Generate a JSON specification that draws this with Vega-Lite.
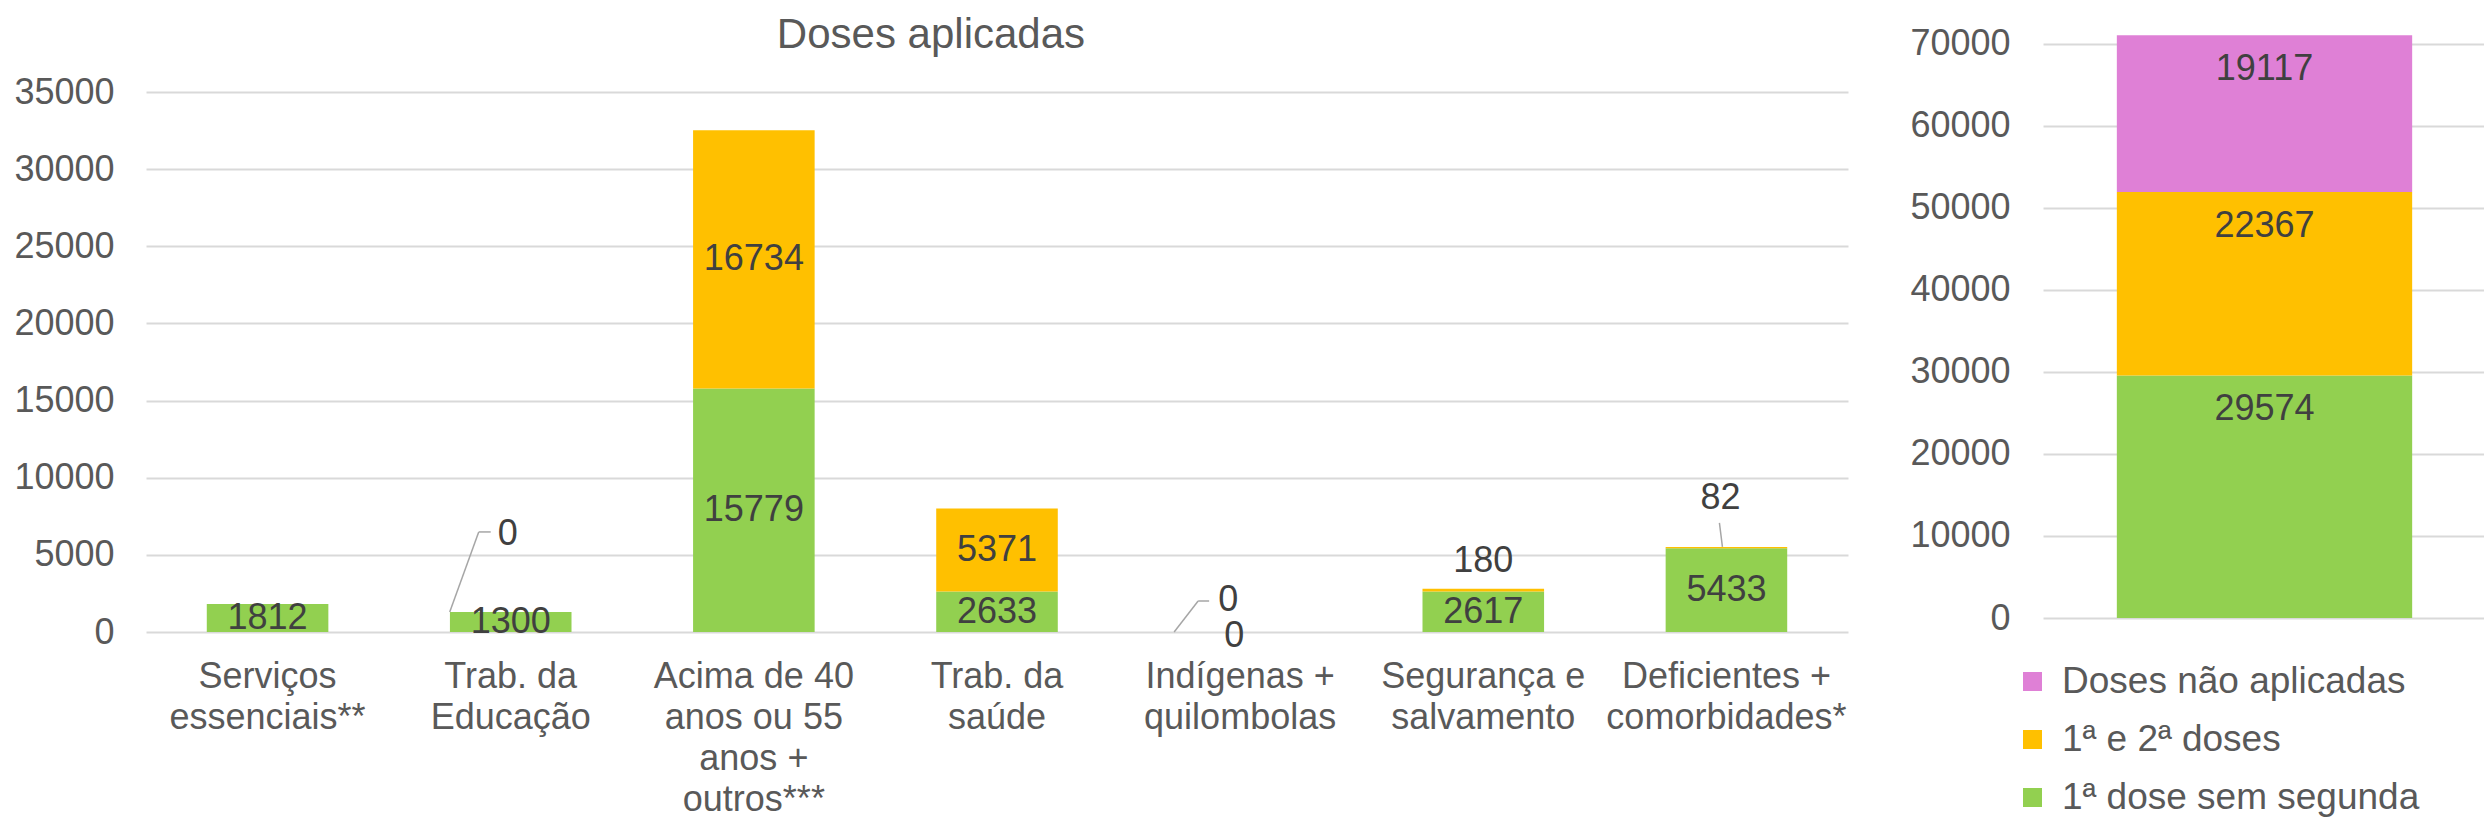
{
  "$schema": "https://vega.github.io/schema/vega-lite/v6.json",
  "background": "white",
  "padding": {"left": 13, "top": 14, "right": 0, "bottom": 0},
  "bounds": "flush",
  "spacing": 195,
  "config": {
    "view": {"stroke": null},
    "font": "Liberation Sans",
    "axis": {"labelFont": "Liberation Sans", "labelColor": "#595959", "gridColor": "#D9D9D9", "gridWidth": 2, "domain": false, "ticks": false, "titleFont": "Liberation Sans"},
    "legend": {"labelFont": "Liberation Sans"}
  },
  "datasets": {
    "grupos": [
      {"grupo": "Serviços essenciais**", "serie": "1ª dose sem segunda", "ord": 1, "valor": 1812},
      {"grupo": "Trab. da Educação", "serie": "1ª dose sem segunda", "ord": 1, "valor": 1300},
      {"grupo": "Trab. da Educação", "serie": "1ª e 2ª doses", "ord": 2, "valor": 0},
      {"grupo": "Acima de 40 anos ou 55 anos + outros***", "serie": "1ª dose sem segunda", "ord": 1, "valor": 15779},
      {"grupo": "Acima de 40 anos ou 55 anos + outros***", "serie": "1ª e 2ª doses", "ord": 2, "valor": 16734},
      {"grupo": "Trab. da saúde", "serie": "1ª dose sem segunda", "ord": 1, "valor": 2633},
      {"grupo": "Trab. da saúde", "serie": "1ª e 2ª doses", "ord": 2, "valor": 5371},
      {"grupo": "Indígenas + quilombolas", "serie": "1ª dose sem segunda", "ord": 1, "valor": 0},
      {"grupo": "Indígenas + quilombolas", "serie": "1ª e 2ª doses", "ord": 2, "valor": 0},
      {"grupo": "Segurança e salvamento", "serie": "1ª dose sem segunda", "ord": 1, "valor": 2617},
      {"grupo": "Segurança e salvamento", "serie": "1ª e 2ª doses", "ord": 2, "valor": 180},
      {"grupo": "Deficientes + comorbidades*", "serie": "1ª dose sem segunda", "ord": 1, "valor": 5433},
      {"grupo": "Deficientes + comorbidades*", "serie": "1ª e 2ª doses", "ord": 2, "valor": 82}
    ],
    "total": [
      {"grupo": "Total", "serie": "1ª dose sem segunda", "ord": 1, "valor": 29574},
      {"grupo": "Total", "serie": "1ª e 2ª doses", "ord": 2, "valor": 22367},
      {"grupo": "Total", "serie": "Doses não aplicadas", "ord": 3, "valor": 19117}
    ]
  },
  "resolve": {"legend": {"color": "independent"}},
  "hconcat": [
    {
      "width": 1702,
      "height": 601,
      "title": {"text": "Doses aplicadas", "fontSize": 42, "font": "Liberation Sans", "fontWeight": "normal", "color": "#595959", "offset": -26, "anchor": "middle", "frame": "bounds"},
      "data": {"name": "grupos"},
      "transform": [
        {"stack": "valor", "groupby": ["grupo"], "sort": [{"field": "ord", "order": "ascending"}], "as": ["v0", "v1"]},
        {"calculate": "(datum.v0 + datum.v1) / 2", "as": "mid"}
      ],
      "encoding": {
        "x": {
          "field": "grupo", "type": "nominal",
          "sort": ["Serviços essenciais**", "Trab. da Educação", "Acima de 40 anos ou 55 anos + outros***", "Trab. da saúde", "Indígenas + quilombolas", "Segurança e salvamento", "Deficientes + comorbidades*"],
          "scale": {"paddingInner": 0.5, "paddingOuter": 0.25},
          "axis": {
            "title": null, "labelAngle": 0, "labelFontSize": 36, "labelPadding": 27, "labelLineHeight": 41, "labelLimit": 500, "labelOverlap": false, "labelBaseline": "top", "grid": false,
            "labelExpr": "datum.value == 'Serviços essenciais**' ? ['Serviços', 'essenciais**'] : datum.value == 'Trab. da Educação' ? ['Trab. da', 'Educação'] : datum.value == 'Acima de 40 anos ou 55 anos + outros***' ? ['Acima de 40', 'anos ou 55', 'anos +', 'outros***'] : datum.value == 'Trab. da saúde' ? ['Trab. da', 'saúde'] : datum.value == 'Indígenas + quilombolas' ? ['Indígenas +', 'quilombolas'] : datum.value == 'Segurança e salvamento' ? ['Segurança e', 'salvamento'] : ['Deficientes +', 'comorbidades*']"
          }
        }
      },
      "layer": [
        {
          "mark": {"type": "bar"},
          "encoding": {
            "y": {"field": "v1", "type": "quantitative", "title": null,
              "scale": {"domain": [0, 38954], "nice": false, "zero": true},
              "axis": {"values": [0, 5000, 10000, 15000, 20000, 25000, 30000, 35000], "labelFontSize": 36, "labelPadding": 32, "format": "d", "grid": true, "title": null}},
            "y2": {"field": "v0"},
            "color": {"field": "serie", "type": "nominal",
              "scale": {"domain": ["Doses não aplicadas", "1ª e 2ª doses", "1ª dose sem segunda"], "range": ["#DF80D6", "#FFC000", "#92D050"]},
              "legend": null}
          }
        },
        {
          "transform": [{"filter": "(datum.ord == 1 || datum.valor >= 1000) && datum.grupo != 'Indígenas + quilombolas'"}],
          "mark": {"type": "text", "fontSize": 36, "color": "#404040", "align": "center", "baseline": "middle"},
          "encoding": {
            "y": {"field": "mid", "type": "quantitative", "title": null},
            "text": {"field": "valor", "type": "quantitative", "format": "d"}
          }
        },
        {
          "transform": [{"filter": "datum.grupo == 'Indígenas + quilombolas' && datum.ord == 1"}],
          "mark": {"type": "text", "fontSize": 36, "color": "#404040", "align": "center", "baseline": "middle", "dx": -6, "dy": 4},
          "encoding": {
            "y": {"field": "mid", "type": "quantitative", "title": null},
            "text": {"field": "valor", "type": "quantitative", "format": "d"}
          }
        },
        {
          "transform": [{"filter": "datum.grupo == 'Trab. da Educação' && datum.ord == 2"}],
          "mark": {"type": "text", "fontSize": 36, "color": "#404040", "align": "center", "baseline": "middle", "dx": -3, "dy": -78},
          "encoding": {
            "y": {"field": "v1", "type": "quantitative", "title": null},
            "text": {"field": "valor", "type": "quantitative", "format": "d"}
          }
        },
        {
          "transform": [{"filter": "datum.grupo == 'Trab. da Educação' && datum.ord == 2"}],
          "mark": {"type": "rule", "color": "#A6A6A6", "strokeWidth": 1.5, "xOffset": -61, "x2Offset": -32, "y2Offset": -80},
          "encoding": {
            "y": {"field": "v1", "type": "quantitative", "title": null},
            "y2": {"field": "v1"},
            "x2": {"field": "grupo"}
          }
        },
        {
          "transform": [{"filter": "datum.grupo == 'Trab. da Educação' && datum.ord == 2"}],
          "mark": {"type": "rule", "color": "#A6A6A6", "strokeWidth": 1.5, "xOffset": -32, "x2Offset": -20, "yOffset": -80, "y2Offset": -80},
          "encoding": {
            "y": {"field": "v1", "type": "quantitative", "title": null},
            "y2": {"field": "v1"},
            "x2": {"field": "grupo"}
          }
        },
        {
          "transform": [{"filter": "datum.grupo == 'Indígenas + quilombolas' && datum.ord == 2"}],
          "mark": {"type": "text", "fontSize": 36, "color": "#404040", "align": "center", "baseline": "middle", "dx": -12, "dy": -32},
          "encoding": {
            "y": {"field": "v1", "type": "quantitative", "title": null},
            "text": {"field": "valor", "type": "quantitative", "format": "d"}
          }
        },
        {
          "transform": [{"filter": "datum.grupo == 'Indígenas + quilombolas' && datum.ord == 2"}],
          "mark": {"type": "rule", "color": "#A6A6A6", "strokeWidth": 1.5, "xOffset": -66, "x2Offset": -42, "y2Offset": -31},
          "encoding": {
            "y": {"field": "v1", "type": "quantitative", "title": null},
            "y2": {"field": "v1"},
            "x2": {"field": "grupo"}
          }
        },
        {
          "transform": [{"filter": "datum.grupo == 'Indígenas + quilombolas' && datum.ord == 2"}],
          "mark": {"type": "rule", "color": "#A6A6A6", "strokeWidth": 1.5, "xOffset": -42, "x2Offset": -31, "yOffset": -31, "y2Offset": -31},
          "encoding": {
            "y": {"field": "v1", "type": "quantitative", "title": null},
            "y2": {"field": "v1"},
            "x2": {"field": "grupo"}
          }
        },
        {
          "transform": [{"filter": "datum.grupo == 'Segurança e salvamento' && datum.ord == 2"}],
          "mark": {"type": "text", "fontSize": 36, "color": "#404040", "align": "center", "baseline": "middle", "dy": -28},
          "encoding": {
            "y": {"field": "v1", "type": "quantitative", "title": null},
            "text": {"field": "valor", "type": "quantitative", "format": "d"}
          }
        },
        {
          "transform": [{"filter": "datum.grupo == 'Deficientes + comorbidades*' && datum.ord == 2"}],
          "mark": {"type": "text", "fontSize": 36, "color": "#404040", "align": "center", "baseline": "middle", "dx": -6, "dy": -49},
          "encoding": {
            "y": {"field": "v1", "type": "quantitative", "title": null},
            "text": {"field": "valor", "type": "quantitative", "format": "d"}
          }
        },
        {
          "transform": [{"filter": "datum.grupo == 'Deficientes + comorbidades*' && datum.ord == 2"}],
          "mark": {"type": "rule", "color": "#A6A6A6", "strokeWidth": 1.5, "xOffset": -4, "x2Offset": -7, "y2Offset": -24},
          "encoding": {
            "y": {"field": "v1", "type": "quantitative", "title": null},
            "y2": {"field": "v1"},
            "x2": {"field": "grupo"}
          }
        }
      ]
    },
    {
      "width": 443,
      "height": 587,
      "data": {"name": "total"},
      "transform": [
        {"stack": "valor", "groupby": ["grupo"], "sort": [{"field": "ord", "order": "ascending"}], "as": ["v0", "v1"]}
      ],
      "encoding": {
        "x": {"field": "grupo", "type": "nominal", "scale": {"paddingInner": 0, "paddingOuter": 0.25}, "axis": null}
      },
      "layer": [
        {
          "mark": {"type": "bar"},
          "encoding": {
            "y": {"field": "v1", "type": "quantitative", "title": null,
              "scale": {"domain": [0, 71585], "nice": false, "zero": true},
              "axis": {"values": [0, 10000, 20000, 30000, 40000, 50000, 60000, 70000], "labelFontSize": 36, "labelPadding": 33, "format": "d", "grid": true, "title": null}},
            "y2": {"field": "v0"},
            "color": {"field": "serie", "type": "nominal",
              "scale": {"domain": ["Doses não aplicadas", "1ª e 2ª doses", "1ª dose sem segunda"], "range": ["#DF80D6", "#FFC000", "#92D050"]},
              "legend": {"orient": "none", "legendX": -29, "legendY": 632, "direction": "vertical", "title": null, "symbolType": "square", "symbolSize": 361, "symbolStrokeWidth": 0, "labelFontSize": 37, "labelColor": "#595959", "rowPadding": 20, "labelOffset": 11, "labelLimit": 600}}
          }
        },
        {
          "mark": {"type": "text", "fontSize": 36, "color": "#404040", "align": "center", "baseline": "middle", "dy": 34},
          "encoding": {
            "y": {"field": "v1", "type": "quantitative", "title": null},
            "text": {"field": "valor", "type": "quantitative", "format": "d"}
          }
        }
      ]
    }
  ]
}
